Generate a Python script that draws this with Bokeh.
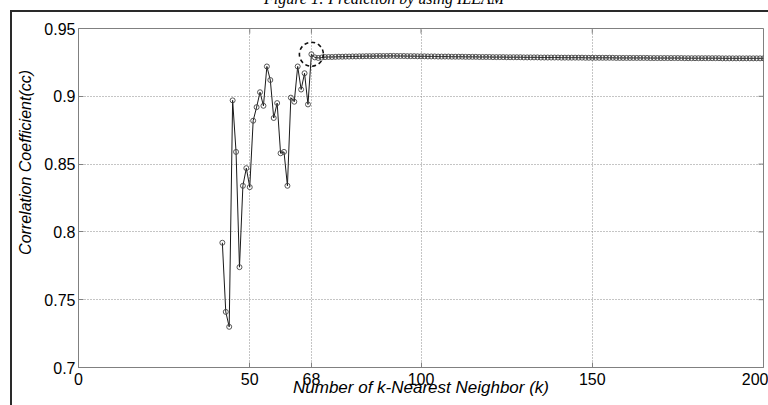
import math
from bokeh.plotting import figure
from bokeh.models import Range1d, FixedTicker, Div
from bokeh.layouts import column
from bokeh.embed import file_html
from bokeh.resources import INLINE

# ---------------- data ----------------
k_start = [42, 43, 44, 45, 46, 47, 48, 49, 50, 51, 52, 53, 54, 55, 56, 57, 58,
           59, 60, 61, 62, 63, 64, 65, 66, 67, 68]
cc_start = [0.792, 0.741, 0.730, 0.897, 0.859, 0.774, 0.834, 0.847, 0.833,
            0.882, 0.892, 0.903, 0.893, 0.922, 0.912, 0.884, 0.895, 0.858,
            0.859, 0.834, 0.899, 0.896, 0.922, 0.905, 0.917, 0.894, 0.931]

k_tail = list(range(69, 201))
cc_tail = [
    0.9287, 0.9283, 0.9286, 0.9289, 0.9290, 0.9290, 0.9291, 0.9292, 0.9292, 0.9293,
    0.9293, 0.9294, 0.9294, 0.9295, 0.9295, 0.9296, 0.9296, 0.9296, 0.9297, 0.9297,
    0.9297, 0.9297, 0.9298, 0.9298, 0.9297, 0.9297, 0.9297, 0.9296, 0.9296, 0.9296,
    0.9295, 0.9295, 0.9295, 0.9294, 0.9294, 0.9294, 0.9293, 0.9293, 0.9293, 0.9293,
    0.9292, 0.9292, 0.9292, 0.9292, 0.9291, 0.9291, 0.9291, 0.9291, 0.9290, 0.9290,
    0.9290, 0.9290, 0.9289, 0.9289, 0.9289, 0.9289, 0.9288, 0.9288, 0.9288, 0.9288,
    0.9288, 0.9287, 0.9287, 0.9287, 0.9287, 0.9287, 0.9286, 0.9286, 0.9286, 0.9286,
    0.9286, 0.9286, 0.9285, 0.9285, 0.9285, 0.9285, 0.9285, 0.9285, 0.9285, 0.9284,
    0.9284, 0.9284, 0.9284, 0.9284, 0.9284, 0.9284, 0.9284, 0.9284, 0.9283, 0.9283,
    0.9283, 0.9283, 0.9283, 0.9283, 0.9283, 0.9283, 0.9283, 0.9283, 0.9282, 0.9282,
    0.9282, 0.9282, 0.9282, 0.9282, 0.9282, 0.9282, 0.9282, 0.9282, 0.9281, 0.9281,
    0.9281, 0.9281, 0.9281, 0.9281, 0.9281, 0.9281, 0.9281, 0.9281, 0.9281, 0.9280,
    0.9280, 0.9280, 0.9280, 0.9280, 0.9280, 0.9280, 0.9280, 0.9280, 0.9280, 0.9280,
    0.9280, 0.9280,
]

k_values = k_start + k_tail
cc_values = cc_start + cc_tail

highlight_k = 68

x_ticks = [0, 50, 68, 100, 150, 200]
y_ticks = [0.7, 0.75, 0.8, 0.85, 0.9, 0.95]
y_tick_labels = ["0.7", "0.75", "0.8", "0.85", "0.9", "0.95"]
x_lim = (0, 200)
y_lim = (0.7, 0.95)

title_text = "Figure 1: Prediction by using ILEAM"
x_title = "Number of k-Nearest Neighbor (k)"
y_title = "Correlation Coefficient(cc)"

FONT = "Liberation Sans"

# ---------------- title strip (cut off at the top, as in the reference) -------
title_div = Div(
    text=('<div style="position:absolute;left:0px;top:-9px;width:768px;'
          'text-align:center;font-family:\'Liberation Serif\';font-style:italic;'
          'font-size:16px;line-height:16px;white-space:nowrap;color:#000">'
          + title_text + '</div>'),
    width=768, height=8, margin=0,
    styles={"font-size": "0px", "line-height": "0px", "min-height": "0px",
            "max-height": "8px", "overflow": "visible"})

# ---------------- figure ----------------
W, H = 768, 397
p = figure(width=W, height=H, output_backend="svg", toolbar_location=None,
           x_range=Range1d(*x_lim), y_range=Range1d(*y_lim),
           min_border_left=78, min_border_right=5, min_border_top=20,
           min_border_bottom=38, margin=0)
p.background_fill_color = None
p.border_fill_color = None
p.outline_line_color = "#808080"
p.outline_line_width = 1
p.styles = {"box-shadow": "inset 10px 2px 0 0 #ffffff, inset 12px 4px 0 0 #2a2a2a"}

for ax in (p.xaxis[0], p.yaxis[0]):
    ax.axis_line_color = "#808080"
    ax.major_tick_line_color = "#808080"
    ax.major_tick_in = 5
    ax.major_tick_out = 0
    ax.minor_tick_line_color = None
    ax.major_label_text_font = FONT
    ax.major_label_text_font_size = "16px"
    ax.major_label_text_color = "#000000"
    ax.axis_label_text_font = FONT
    ax.axis_label_text_font_style = "italic"
    ax.axis_label_text_color = "#000000"

p.xaxis[0].ticker = FixedTicker(ticks=x_ticks)
p.xaxis[0].major_label_standoff = 5
p.xaxis[0].axis_label = x_title
p.xaxis[0].axis_label_text_font_size = "17px"
p.xaxis[0].axis_label_standoff = -10

p.yaxis[0].ticker = FixedTicker(ticks=y_ticks)
p.yaxis[0].major_label_overrides = {t: s for t, s in zip(y_ticks, y_tick_labels)}
p.yaxis[0].major_label_standoff = 3
# leading no-break spaces move the label up, as in the reference
p.yaxis[0].axis_label = "\u00a0" * 16 + y_title
p.yaxis[0].axis_label_text_font_size = "16px"
p.yaxis[0].axis_label_standoff = 7

p.xgrid.ticker = FixedTicker(ticks=x_ticks)
p.ygrid.ticker = FixedTicker(ticks=y_ticks)
for g in (p.xgrid[0], p.ygrid[0]):
    g.grid_line_color = "#8a8a8a"
    g.grid_line_dash = "1 2"
    g.grid_line_width = 1

# box ticks on the top and right edges (MATLAB style)
p.ray(x=x_ticks, y=[y_lim[1]] * len(x_ticks), length=5, length_units="screen",
      angle=-math.pi / 2, line_color="#808080", line_width=1)
p.ray(x=[x_lim[1]] * len(y_ticks), y=y_ticks, length=5, length_units="screen",
      angle=math.pi, line_color="#808080", line_width=1)

# ---------------- data marks ----------------
p.line(k_values, cc_values, line_color="#1a1a1a", line_width=1)
p.scatter(k_values, cc_values, marker="circle", size=5, fill_color=None,
          line_color="#444444", line_width=0.9)

hi_cc = cc_values[k_values.index(highlight_k)]
p.scatter([highlight_k], [hi_cc], marker="circle", size=24, fill_color=None,
          line_color="#111111", line_width=1.6, line_dash="4 3")

layout = column(title_div, p, spacing=0, margin=0)
open("out.html", "w").write(file_html(layout, INLINE))
